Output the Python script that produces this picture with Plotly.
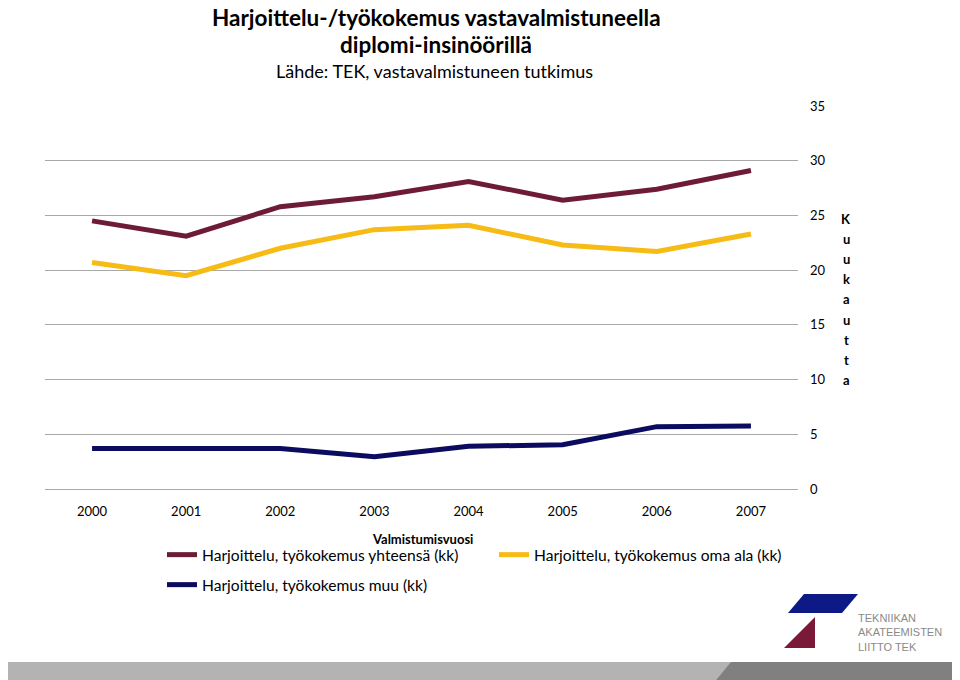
import plotly.graph_objects as go

years = ["2000", "2001", "2002", "2003", "2004", "2005", "2006", "2007"]
total_kk = [24.5, 23.1, 25.8, 26.7, 28.1, 26.4, 27.4, 29.1]
own_field_kk = [20.7, 19.5, 22.0, 23.7, 24.1, 22.3, 21.7, 23.3]
other_kk = [3.7, 3.65, 3.7, 2.95, 3.9, 4.05, 5.7, 5.75]
series_names = [
    "Harjoittelu, työkokemus yhteensä (kk)",
    "Harjoittelu, työkokemus oma ala (kk)",
    "Harjoittelu, työkokemus muu (kk)",
]
colors = ["#6e1b36", "#f6bb15", "#0b0b5f"]
legend_ids = ["legend", "legend", "legend2"]
y_ticks = [0, 5, 10, 15, 20, 25, 30, 35]

FONT = "Lato, 'Open Sans', sans-serif"

fig = go.Figure()
for name, vals, col, lg in zip(series_names, [total_kk, own_field_kk, other_kk], colors, legend_ids):
    fig.add_trace(go.Scatter(x=years, y=vals, mode="lines", name=name, legend=lg,
                             line=dict(color=col, width=5)))

W, H = 960, 680
OFF = 8  # page body margin offset
L = 45 - OFF
T = 106 - OFF
plot_right = 798 - OFF
plot_bottom = 489 - OFF
R = W - plot_right
B = H - plot_bottom
pw, ph = W - L - R, H - T - B

def px(x):
    return (x - OFF - L) / pw

def py(y):
    return (H - B - (y - OFF)) / ph

annotations = [
    dict(text="<b>Harjoittelu-/työkokemus vastavalmistuneella</b>", x=px(436), y=py(17),
         font=dict(size=22.5, color="#000"), borderpad=0),
    dict(text="<b>diplomi-insinöörillä</b>", x=px(436), y=py(44), font=dict(size=22.5, color="#000")),
    dict(text="Lähde: TEK, vastavalmistuneen tutkimus", x=px(434), y=py(71),
         font=dict(size=18, color="#000")),
    dict(text="<b>Valmistumisvuosi</b>", x=px(422), y=py(539), font=dict(size=13, color="#000")),
    dict(text="TEKNIIKAN<br>AKATEEMISTEN<br>LIITTO TEK", x=px(856), y=py(632), xanchor="left",
         align="left", font=dict(size=11, color="#8a8a8a", family="Liberation Sans, Arial")),
]
for i, ch in enumerate("Kuukautta"):
    annotations.append(dict(text="<b>%s</b>" % ch, x=px(846), y=py(219 + i * 20.1),
                            font=dict(size=13, color="#000")))
for a in annotations:
    a.setdefault("xref", "paper")
    a.setdefault("yref", "paper")
    a.setdefault("showarrow", False)
    a.setdefault("xanchor", "center")
    a.setdefault("yanchor", "middle")

def path(points):
    return "M " + " L ".join("%f,%f" % (px(x), py(y)) for x, y in points) + " Z"

shapes = [
    dict(type="path", path=path([(0, 662), (970, 662), (970, 690), (0, 690)]),
         fillcolor="#b3b3b3", line=dict(width=0)),
    dict(type="path", path=path([(731, 662), (970, 662), (970, 690), (708, 690)]),
         fillcolor="#808080", line=dict(width=0)),
    dict(type="path", path=path([(804, 594), (858, 594), (842, 613), (788, 613)]),
         fillcolor="#0d1a86", line=dict(width=0)),
    dict(type="path", path=path([(815, 617), (815, 648), (784, 648)]),
         fillcolor="#7a1a38", line=dict(width=0)),
]
for s in shapes:
    s["xref"] = "paper"
    s["yref"] = "paper"

legend_common = dict(orientation="h", xanchor="left", yanchor="middle",
                     entrywidth=287, entrywidthmode="pixels", font=dict(size=15.6),
                     bgcolor="rgba(0,0,0,0)", itemwidth=30)

fig.update_layout(
    width=W, height=H,
    margin=dict(l=L, r=R, t=T, b=B),
    paper_bgcolor="white", plot_bgcolor="white",
    font=dict(family=FONT, color="#000"),
    showlegend=True,
    legend=dict(x=px(162), y=py(555), **legend_common),
    legend2=dict(x=px(162), y=py(585), **legend_common),
    annotations=annotations,
    shapes=shapes,
    xaxis=dict(type="category", range=[-0.5, 7.5], showgrid=False, showline=False,
               ticks="", tickfont=dict(size=13), ticklabelstandoff=13, zeroline=False),
    yaxis=dict(side="right", range=[0, 35], tickvals=y_ticks, showgrid=True,
               gridcolor="#a8a8a8", gridwidth=1.3, zeroline=True, zerolinecolor="#a8a8a8",
               zerolinewidth=1.3, showline=False, ticks="", tickfont=dict(size=13),
               ticklabelstandoff=11),
)

fig.write_html("out.html")
